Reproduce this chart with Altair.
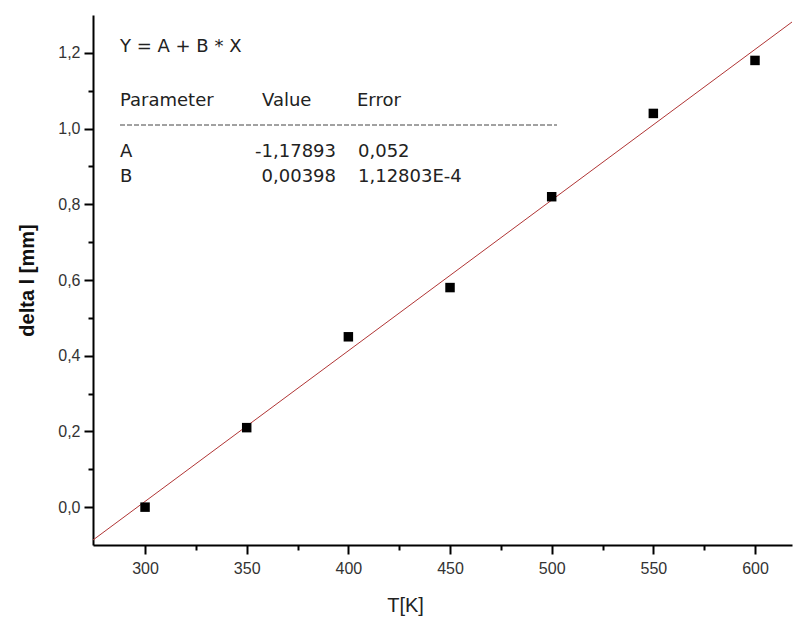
import altair as alt
import pandas as pd

# data
temps = [300, 350, 400, 450, 500, 550, 600]
delta_l = [0.0, 0.21, 0.45, 0.58, 0.82, 1.04, 1.18]

# fit parameters shown on chart
A = -1.17893
B = 0.00398
fit_x = [270, 630]

x_ticks = [300, 325, 350, 375, 400, 425, 450, 475, 500, 525, 550, 575, 600]
y_ticks = [0.0, 0.1, 0.2, 0.3, 0.4, 0.5, 0.6, 0.7, 0.8, 0.9, 1.0, 1.1, 1.2]

header = ["Parameter", "Value", "Error"]
row_a = ["A", "-1,17893", "0,052"]
row_b = ["B", "0,00398", "1,12803E-4"]
equation = "Y = A + B * X"

FONT = "Liberation Sans"
TXT = "DejaVu Sans"

pts = pd.DataFrame({"T": temps, "dl": delta_l})
fit = pd.DataFrame({"T": fit_x, "dl": [A + B * v for v in fit_x]})

xscale = alt.Scale(domain=[274.4, 618.2], nice=False, zero=False)
yscale = alt.Scale(domain=[-0.1, 1.3], nice=False, zero=False)

xaxis = alt.Axis(
    title="T[K]", values=x_ticks, format="d",
    labelExpr="datum.value % 50 == 0 ? datum.label : ''",
    tickSize={"condition": {"test": "datum.value % 50 == 0", "value": 9}, "value": 5},
    labelFont=FONT, labelFontSize=16, labelColor="#333", labelPadding=6,
    titleFont=FONT, titleFontSize=20, titleFontWeight="normal", titleColor="#222",
    titleX=312, titleY=60, titleBaseline="middle", titleAlign="center",
    grid=False, domainColor="black", domainWidth=2, tickColor="black", tickWidth=2,
)
yaxis = alt.Axis(
    title="delta l [mm]", values=y_ticks,
    labelExpr="round(datum.value*10) % 2 == 0 ? replace(format(datum.value, '.1f'), '.', ',') : ''",
    tickSize={"condition": {"test": "round(datum.value*10) % 2 == 0", "value": 9}, "value": 5},
    labelFont=FONT, labelFontSize=16, labelColor="#333", labelPadding=4,
    titleFont=FONT, titleFontSize=20, titleFontWeight="bold", titleColor="#111",
    titleX=-66, titleY=265, titleAngle=-90, titleBaseline="middle", titleAlign="center",
    grid=False, domainColor="black", domainWidth=2, tickColor="black", tickWidth=2,
)

line = alt.Chart(fit).mark_line(color="#b03535", strokeWidth=1, clip=True).encode(
    x=alt.X("T:Q", scale=xscale, axis=xaxis),
    y=alt.Y("dl:Q", scale=yscale, axis=yaxis),
)
points = alt.Chart(pts).mark_square(color="black", size=90, opacity=1).encode(
    x=alt.X("T:Q", scale=xscale),
    y=alt.Y("dl:Q", scale=yscale),
)

def txt(s, x, y, align="left"):
    return alt.Chart(pd.DataFrame({"t": [s]})).mark_text(
        font=TXT, fontSize=18, color="#222", align=align, baseline="alphabetic"
    ).encode(text="t:N", x=alt.value(x), y=alt.value(y))

texts = [
    txt(equation, 27, 37),
    txt(header[0], 27, 91), txt(header[1], 169, 91), txt(header[2], 264, 91),
    txt(row_a[0], 27, 142), txt(row_a[1], 243, 142, "right"), txt(row_a[2], 265, 142),
    txt(row_b[0], 27, 167), txt(row_b[1], 243, 167, "right"), txt(row_b[2], 265, 167),
]
dash = alt.Chart(pd.DataFrame({"a": [0]})).mark_rule(
    color="#444", strokeWidth=1, strokeDash=[5, 2]
).encode(x=alt.value(27), x2=alt.value(464), y=alt.value(110))

chart = alt.layer(line, points, dash, *texts).properties(
    width=699, height=530,
    padding={"left": 85, "top": 7, "right": 1, "bottom": 75},
    autosize=alt.AutoSizeParams(type="none"),
    background="white",
).configure_view(stroke=None)

chart.save("out.html", embed_options={"renderer": "svg", "actions": False})
